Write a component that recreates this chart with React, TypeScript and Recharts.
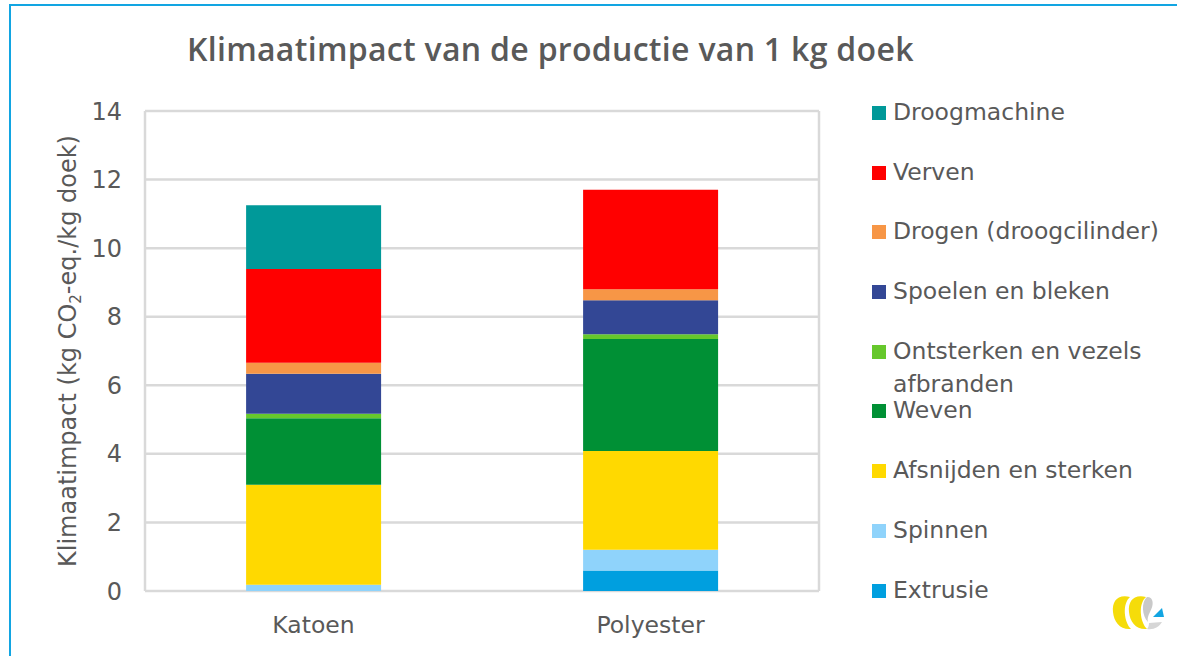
import { BarChart, Bar, XAxis, YAxis, CartesianGrid, Legend } from "recharts";

const categories = ["Katoen", "Polyester"];
const yTicks = [0, 2, 4, 6, 8, 10, 12, 14];

// stacked bottom to top
const extrusie = [0, 0.6];
const spinnen = [0.18, 0.6];
const afsnijden = [2.92, 2.88];
const weven = [1.94, 3.27];
const ontsterken = [0.13, 0.14];
const spoelen = [1.17, 0.99];
const drogen = [0.32, 0.32];
const verven = [2.73, 2.9];
const droogmachine = [1.86, 0];

const seriesList = [
  { name: "Extrusie", values: extrusie, color: "#009fdf" },
  { name: "Spinnen", values: spinnen, color: "#8fd3fb" },
  { name: "Afsnijden en sterken", values: afsnijden, color: "#ffd900" },
  { name: "Weven", values: weven, color: "#009035" },
  { name: "Ontsterken en vezels afbranden", values: ontsterken, color: "#66c82c" },
  { name: "Spoelen en bleken", values: spoelen, color: "#334795" },
  { name: "Drogen (droogcilinder)", values: drogen, color: "#f79646" },
  { name: "Verven", values: verven, color: "#ff0000" },
  { name: "Droogmachine", values: droogmachine, color: "#009999" },
];

const chartData = categories.map((category, i) => {
  const row: Record<string, string | number> = { category };
  seriesList.forEach((s) => {
    row[s.name] = s.values[i];
  });
  return row;
});

const FONT = "'DejaVu Sans', sans-serif";
const TEXT = "#595959";

const StackLegend = ({ payload }: any) => {
  const items = [...(payload ?? [])].reverse();
  return (
    <div style={{ fontFamily: FONT, fontSize: 23.5, color: TEXT }}>
      {items.map((item: any) => (
        <div key={item.value} style={{ height: 59.7, display: "flex", alignItems: "flex-start" }}>
          <span style={{ width: 14, height: 14, marginTop: 9, marginRight: 7, flexShrink: 0, background: item.color }} />
          <span style={{ lineHeight: "33px", width: 270, marginTop: -1 }}>{item.value}</span>
        </div>
      ))}
    </div>
  );
};

const YLabel = () => (
  <text
    transform="translate(76,351) rotate(-90)"
    textAnchor="middle"
    fontFamily={FONT}
    fontSize={24}
    fill={TEXT}
  >
    Klimaatimpact (kg CO<tspan fontSize={15} dy={5}>2</tspan>
    <tspan dy={-5}>-eq./kg doek)</tspan>
  </text>
);

const App = () => {
  return (
    <div style={{ position: "absolute", left: 0, top: 0, width: 1177, height: 656, overflow: "hidden", background: "#fff" }}>
      <div
        style={{
          position: "absolute",
          left: 9,
          top: 4,
          width: 1200,
          height: 700,
          border: "2px solid #12a5e2",
        }}
      />
      <BarChart
        width={1177}
        height={656}
        data={chartData}
        barCategoryGap="30%"
        margin={{ top: 111, right: 58, bottom: 25, left: 75 }}
        style={{ position: "absolute", left: 0, top: 0 }}
      >
        <text x={187} y={61} fontFamily="'Open Sans', sans-serif" fontSize={32} letterSpacing={0.3} fontWeight={600} fill={TEXT}>
          Klimaatimpact van de productie van 1 kg doek
        </text>
        <CartesianGrid
          stroke="#d9d9d9"
          strokeWidth={2.5}
          verticalCoordinatesGenerator={({ offset }: any) => [offset.left, offset.left + offset.width]}
        />
        <XAxis
          dataKey="category"
          height={40}
          axisLine={false}
          tickLine={false}
          tick={{ fontFamily: FONT, fontSize: 23.5, fill: TEXT }}
          tickMargin={19}
        />
        <YAxis
          width={70}
          domain={[0, 14]}
          ticks={yTicks}
          interval={0}
          axisLine={false}
          tickLine={false}
          tick={{ fontFamily: FONT, fontSize: 24, fill: TEXT }}
          tickMargin={17}
          label={<YLabel />}
        />
        {seriesList.map((s) => (
          <Bar key={s.name} dataKey={s.name} stackId="a" fill={s.color} isAnimationActive={false} />
        ))}
        <Legend
          layout="vertical"
          align="right"
          verticalAlign="top"
          width={300}
          itemSorter={null}
          content={<StackLegend />}
          wrapperStyle={{ left: 872, top: 97 }}
        />
      </BarChart>
      {/* logo bottom right */}
      <svg width={60} height={50} style={{ position: "absolute", left: 1105, top: 590 }}>
        <path d="M25 7 C12 4 7 12 8 22 C9 32 15 40 26 39 C19 32 17 14 25 7Z" fill="#f5dc0a" />
        <path d="M41 7 C28 4 23 12 24 22 C25 32 31 40 42 39 C35 32 33 14 41 7Z" fill="#f5dc0a" />
        <path d="M42 7 C49 7 49 15 45 22 C43 26 42 29 43 32 C37 26 36 12 42 7Z" fill="#c9c9c9" />
        <path d="M42 39 C49 40 54 37 57 32 L44 33 C44 36 43 38 42 39Z" fill="#d6d6d6" />
        <path d="M48 27 L57 18 L59 27 Z" fill="#12a5e2" />
      </svg>
    </div>
  );
};

export default App;
